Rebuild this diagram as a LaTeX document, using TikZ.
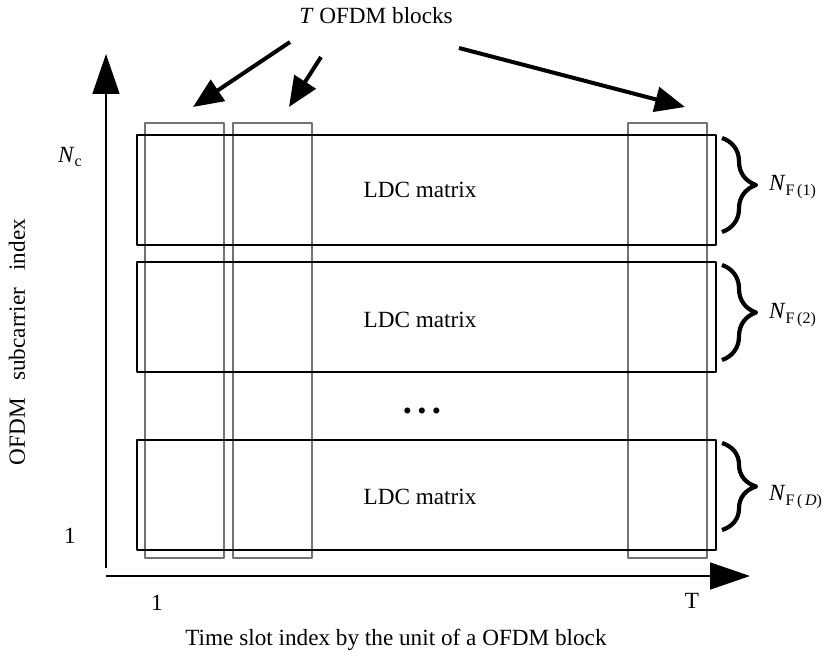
\documentclass[tikz,border=0pt]{standalone}
\usepackage{fontspec}
\setmainfont{Liberation Serif}
\usetikzlibrary{arrows.meta,decorations.pathreplacing}

\newcommand{\subN}[1]{\textit{N}\raisebox{-0.45ex}{\footnotesize #1}}

\begin{document}
\begin{tikzpicture}[x=0.5pt,y=-0.5pt,line join=round,
    font=\fontsize{11.6}{14}\selectfont,
    ldcbox/.style={draw,line width=0.9pt,inner sep=0pt,minimum width=289.5pt,minimum height=55pt},
    slotbox/.style={draw=black!55,line width=0.6pt,inner sep=0pt,minimum width=39.5pt,minimum height=217.5pt},
    axisarrow/.style={line width=0.9pt,-{Triangle[length=20pt,width=13.5pt]}},
    blkarrow/.style={line width=2pt,-{Triangle[length=15pt,width=12.5pt]}},
    bracer/.style={decorate,decoration={brace,amplitude=17pt},line width=2.1pt}]
    \useasboundingbox (0,0) rectangle (828,668);
    % axes
    \coordinate (ybot) at (106,568);
    \coordinate (ytop) at (106,54);
    \coordinate (xl) at (106,576);
    \coordinate (xr) at (750,576);
    \draw [axisarrow] (ybot) -- (ytop);
    \draw [axisarrow] (xl) -- (xr);
    % OFDM blocks (time slots)
    \node [slotbox] (col1) at (184.5,340.5) {};
    \node [slotbox] (col2) at (272.5,340.5) {};
    \node [slotbox] (colT) at (667.5,340.5) {};
    % LDC matrices
    \node [ldcbox] (ldc1) at (426.5,190) {};
    \node [ldcbox] (ldc2) at (426.5,317) {};
    \node [ldcbox] (ldcD) at (426.5,495) {};
    \node (txt1) at (420,190) {LDC matrix};
    \node (txt2) at (420,320) {LDC matrix};
    \node (txtD) at (420,497) {LDC matrix};
    \node [inner sep=0pt] (dots) at (422,411) {{\scriptsize$\bullet$}\hspace{3.2pt}{\scriptsize$\bullet$}\hspace{3.2pt}{\scriptsize$\bullet$}};
    % braces
    \coordinate (b1t) at (722,138);
    \coordinate (b1b) at (722,232);
    \coordinate (b2t) at (722,265);
    \coordinate (b2b) at (722,360);
    \coordinate (bDt) at (722,443);
    \coordinate (bDb) at (722,530);
    \draw [bracer] (b1t) -- (b1b);
    \draw [bracer] (b2t) -- (b2b);
    \draw [bracer] (bDt) -- (bDb);
    \node [anchor=west] (nf1) at (762,187) {\subN{F\,(1)}};
    \node [anchor=west] (nf2) at (762,315) {\subN{F\,(2)}};
    \node [anchor=west] (nfD) at (762,497) {\subN{F\,(\,\textit{D})}};
    % axis labels
    \node (nc) at (70,157) {\subN{c}};
    \node (one) at (70,536) {1};
    \node (tone) at (157,603) {1};
    \node (tT) at (692,601) {T};
    \node [rotate=90] (ylab) at (17,342) {OFDM\hspace{0.75em}subcarrier\hspace{0.75em}index};
    \node (xlab) at (396,640) {Time slot index by the unit of a OFDM block};
    % T OFDM blocks
    \node (blocks) at (376,16) {\textit{T} OFDM blocks};
    \coordinate (a1s) at (290,42);
    \coordinate (a1e) at (193,107);
    \coordinate (a2s) at (321,57);
    \coordinate (a2e) at (289,107);
    \coordinate (a3s) at (459,48);
    \coordinate (a3e) at (685,107);
    \draw [blkarrow] (a1s) -- (a1e);
    \draw [blkarrow] (a2s) -- (a2e);
    \draw [blkarrow] (a3s) -- (a3e);
\end{tikzpicture}
\end{document}
